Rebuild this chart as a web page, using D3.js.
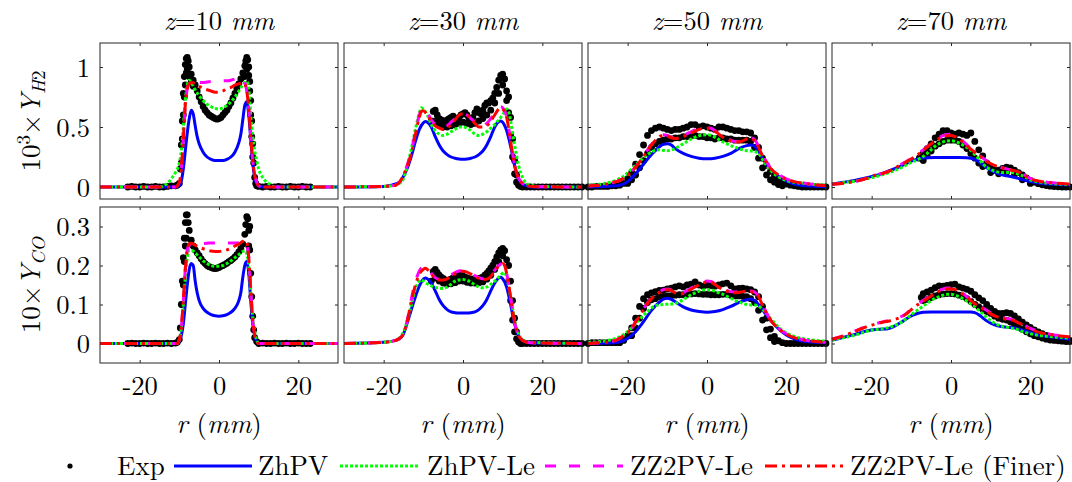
<!DOCTYPE html>
<html>
<head>
<meta charset="utf-8">
<script src="https://cdn.jsdelivr.net/npm/d3@7"></script>
<style>
  body { margin: 0; background: #fff; }
</style>
</head>
<body>
<div id="chart"></div>
<script>
// Radial profiles of 10^3*Y_H2 (top row) and 10*Y_CO (bottom row) at four heights.
// Every series is a list of [r (mm), value] pairs.

const heights = ["10", "30", "50", "70"];
const xTicks = [-20, 0, 20];
const yTicksH2 = [0, 0.5, 1];
const yTicksCO = [0, 0.1, 0.2, 0.3];

// ---------- z = 10 mm ----------
const expH2z10 = [[-23,0],[-22,0.005],[-21,0],[-20,0],[-19,0.005],[-18,0],[-17,0],[-16,0.005],[-15,0],[-14,0],[-13,0.005],[-12,0.01],[-11,0.01],[-10.5,0.015],[-10,0.03],[-9.75,0.15],[-9.5,0.35],[-9.25,0.55],[-9,0.78],[-8.75,0.92],[-8.5,1.02],[-8.25,1.07],[-8,1.08],[-7.75,1.05],[-7.5,1.0],[-7,0.94],[-6.5,0.89],[-6,0.85],[-5.5,0.8],[-5,0.75],[-4.5,0.71],[-4,0.67],[-3.5,0.64],[-3,0.62],[-2.5,0.6],[-2,0.59],[-1.5,0.58],[-1,0.57],[-0.5,0.565],[0,0.57],[0.5,0.58],[1,0.6],[1.5,0.62],[2,0.64],[2.5,0.67],[3,0.7],[3.5,0.74],[4,0.78],[4.5,0.82],[5,0.86],[5.5,0.9],[6,0.95],[6.5,1.01],[6.75,1.05],[7,1.08],[7.25,1.06],[7.5,1.0],[7.75,0.88],[8,0.72],[8.25,0.55],[8.5,0.36],[8.75,0.2],[9,0.08],[9.25,0.03],[9.5,0.01],[10,0.005],[11,0],[12,0.005],[13,0],[14,0],[15,0.005],[16,0],[17,0],[18,0.005],[19,0],[20,0],[21,0.005],[22,0],[23,0],
  [-9.5,0.2],[-9.25,0.4],[-9,0.6],[-8.75,0.75],[-8.5,0.85],[-8.25,0.95],[-8,0.98],[-7.5,0.92],[-7,0.88],[-6.5,0.84],[6.5,0.92],[7,0.98],[7.5,0.93],[7.75,0.8],[8,0.6],[8.25,0.42],[8.5,0.25]];
const zhpvH2z10 = [[-30,0],[-11,0],[-10,0.01],[-9.5,0.05],[-9,0.15],[-8.5,0.3],[-8,0.45],[-7.5,0.57],[-7,0.64],[-6.5,0.61],[-6,0.51],[-5.5,0.42],[-5,0.36],[-4,0.29],[-3,0.25],[-2,0.23],[-1,0.22],[0,0.22],[1,0.22],[2,0.23],[3,0.25],[4,0.29],[5,0.37],[5.5,0.44],[6,0.56],[6.5,0.68],[7,0.71],[7.5,0.6],[8,0.4],[8.5,0.2],[9,0.08],[9.5,0.03],[10,0.01],[11,0],[30,0]];
const zhpvLeH2z10 = [[-30,0],[-15,0],[-14,0.01],[-13,0.03],[-12,0.07],[-11,0.12],[-10,0.2],[-9.5,0.3],[-9,0.5],[-8.5,0.72],[-8,0.85],[-7.5,0.89],[-7,0.87],[-6,0.81],[-5,0.76],[-4,0.72],[-3,0.69],[-2,0.67],[-1,0.655],[0,0.65],[1,0.66],[2,0.68],[3,0.71],[4,0.75],[5,0.8],[6,0.85],[7,0.88],[7.5,0.82],[8,0.6],[8.5,0.42],[9,0.3],[9.5,0.22],[10,0.15],[11,0.08],[12,0.04],[13,0.02],[14,0],[30,0]];
const zz2H2z10 = [[-30,0],[-11,0],[-10,0.04],[-9.5,0.15],[-9,0.4],[-8.5,0.68],[-8,0.82],[-7.5,0.86],[-7,0.87],[-6,0.87],[-5,0.87],[-4,0.87],[-3,0.875],[-2,0.88],[-1,0.885],[0,0.885],[1,0.885],[2,0.885],[3,0.89],[4,0.9],[5,0.91],[5.5,0.915],[6,0.9],[6.5,0.87],[7,0.8],[7.5,0.65],[8,0.42],[8.5,0.22],[9,0.1],[9.5,0.04],[10,0.01],[11,0],[30,0]];
const zz2FineH2z10 = [[-30,0],[-11,0],[-10.5,0.01],[-10,0.04],[-9.5,0.15],[-9,0.4],[-8.5,0.68],[-8,0.82],[-7.5,0.86],[-7,0.87],[-6,0.86],[-5,0.84],[-4,0.82],[-3,0.81],[-2,0.8],[-1,0.79],[0,0.79],[1,0.8],[2,0.82],[3,0.83],[4,0.85],[5,0.86],[6,0.87],[6.5,0.86],[7,0.8],[7.5,0.65],[8,0.42],[8.5,0.22],[9,0.1],[9.5,0.04],[10,0.01],[11,0],[30,0]];

const expCOz10 = [[-23,0],[-22,0.001],[-21,0],[-20,0],[-19,0.001],[-18,0],[-17,0],[-16,0.001],[-15,0],[-14,0],[-13,0.001],[-12,0],[-11,0.001],[-10.5,0.003],[-10,0.01],[-9.75,0.04],[-9.5,0.1],[-9.25,0.16],[-9,0.22],[-8.75,0.27],[-8.5,0.31],[-8.25,0.33],[-8,0.33],[-7.75,0.31],[-7.5,0.29],[-7,0.265],[-6.5,0.25],[-6,0.24],[-5.5,0.232],[-5,0.225],[-4.5,0.217],[-4,0.21],[-3.5,0.205],[-3,0.2],[-2.5,0.197],[-2,0.195],[-1.5,0.193],[-1,0.192],[-0.5,0.193],[0,0.195],[0.5,0.198],[1,0.2],[1.5,0.203],[2,0.206],[2.5,0.21],[3,0.213],[3.5,0.217],[4,0.222],[4.5,0.228],[5,0.235],[5.5,0.243],[6,0.255],[6.5,0.28],[6.75,0.305],[7,0.325],[7.25,0.32],[7.5,0.29],[7.75,0.24],[8,0.18],[8.25,0.12],[8.5,0.07],[8.75,0.035],[9,0.015],[9.5,0.005],[10,0],[11,0.001],[12,0],[13,0],[14,0.001],[15,0],[16,0],[17,0.001],[18,0],[19,0],[20,0.001],[21,0],[22,0],[23,0],
  [-9,0.15],[-8.75,0.21],[-8.5,0.25],[-8.25,0.27],[7.5,0.25],[7.75,0.3]];
const zhpvCOz10 = [[-30,0],[-10.5,0],[-10,0.005],[-9.5,0.02],[-9,0.05],[-8.5,0.1],[-8,0.15],[-7.5,0.19],[-7,0.205],[-6.5,0.2],[-6,0.16],[-5.5,0.13],[-5,0.11],[-4,0.09],[-3,0.08],[-2,0.074],[-1,0.071],[0,0.07],[1,0.071],[2,0.074],[3,0.08],[4,0.09],[5,0.11],[5.5,0.13],[6,0.17],[6.5,0.2],[7,0.21],[7.5,0.18],[8,0.11],[8.5,0.05],[9,0.02],[9.5,0.005],[10,0],[30,0]];
const zhpvLeCOz10 = [[-30,0],[-10.5,0],[-10,0.01],[-9.5,0.04],[-9,0.1],[-8.5,0.17],[-8,0.22],[-7.5,0.24],[-7,0.24],[-6,0.232],[-5,0.222],[-4,0.212],[-3,0.205],[-2,0.2],[-1,0.198],[0,0.198],[1,0.2],[2,0.205],[3,0.212],[4,0.22],[5,0.228],[6,0.236],[6.5,0.238],[7,0.23],[7.5,0.2],[8,0.13],[8.5,0.07],[9,0.03],[9.5,0.01],[10,0],[30,0]];
const zz2COz10 = [[-30,0],[-10.5,0],[-10,0.01],[-9.5,0.04],[-9,0.11],[-8.5,0.19],[-8,0.24],[-7.5,0.252],[-7,0.254],[-6,0.254],[-5,0.255],[-4,0.256],[-3,0.257],[-2,0.258],[-1,0.258],[0,0.258],[1,0.258],[2,0.258],[3,0.258],[4,0.258],[5,0.258],[6,0.26],[6.5,0.262],[7,0.255],[7.5,0.22],[8,0.14],[8.5,0.06],[9,0.02],[9.5,0.005],[10,0],[30,0]];
const zz2FineCOz10 = [[-30,0],[-10.5,0],[-10,0.01],[-9.5,0.04],[-9,0.11],[-8.5,0.19],[-8,0.24],[-7.5,0.255],[-7,0.257],[-6,0.252],[-5,0.247],[-4,0.243],[-3,0.24],[-2,0.237],[-1,0.236],[0,0.236],[1,0.238],[2,0.24],[3,0.244],[4,0.25],[5,0.255],[6,0.262],[6.5,0.265],[7,0.26],[7.5,0.22],[8,0.14],[8.5,0.06],[9,0.02],[9.5,0.005],[10,0],[30,0]];

// ---------- z = 30 mm ----------
const expH2z30 = [[-8,0.55],[-7.5,0.63],[-7,0.64],[-6.5,0.6],[-6,0.57],[-5.5,0.56],[-5,0.55],[-4.5,0.53],[-4,0.56],[-3.5,0.57],[-3,0.58],[-2.5,0.59],[-2,0.57],[-1.5,0.56],[-1,0.58],[-0.5,0.6],[0,0.61],[0.5,0.62],[1,0.6],[1.5,0.57],[2,0.56],[2.5,0.58],[3,0.62],[3.5,0.65],[4,0.62],[4.5,0.61],[5,0.64],[5.5,0.68],[6,0.7],[6.5,0.7],[7,0.72],[7.5,0.74],[8,0.78],[8.5,0.83],[9,0.89],[9.5,0.93],[10,0.94],[10.5,0.9],[11,0.8],[11.5,0.62],[12,0.43],[12.5,0.25],[13,0.11],[13.5,0.04],[14,0.015],[14.5,0.005],[15,0],[16,0],[17,0],[18,0],[19,0],[20,0],[21,0],[22,0],[23,0],[24,0],[25,0],[26,0],[27,0],[28,0],[29,0],[30,0],
  [-7,0.55],[-6,0.52],[-5,0.5],[-4,0.5],[-3,0.51],[-2,0.52],[-1,0.53],[0,0.54],[1,0.53],[2,0.52],[3,0.53],[4,0.55],[5,0.57],[6,0.6],[7,0.64],[8,0.7],[9,0.78],[10,0.85],[11,0.72],[11.5,0.75],[12,0.58],[12.5,0.4],[13,0.22],[13.5,0.1],[14,0.04]];
const zhpvH2z30 = [[-30,0],[-20,0.005],[-18,0.015],[-17,0.025],[-16,0.04],[-15,0.09],[-14,0.16],[-13,0.26],[-12,0.38],[-11,0.48],[-10,0.535],[-9.5,0.545],[-9,0.54],[-8,0.5],[-7,0.42],[-6,0.35],[-5,0.3],[-4,0.27],[-3,0.25],[-2,0.24],[-1,0.234],[0,0.232],[1,0.234],[2,0.24],[3,0.25],[4,0.27],[5,0.3],[6,0.35],[7,0.42],[8,0.5],[9,0.545],[9.5,0.55],[10,0.54],[11,0.47],[12,0.34],[13,0.18],[14,0.07],[15,0.025],[16,0.01],[18,0],[30,0]];
const zhpvLeH2z30 = [[-30,0],[-20,0.005],[-17,0.015],[-16,0.03],[-15,0.07],[-14,0.18],[-13,0.32],[-12,0.48],[-11,0.62],[-10.5,0.66],[-10,0.65],[-9,0.6],[-8,0.52],[-7,0.47],[-6,0.44],[-5,0.43],[-4,0.44],[-3,0.46],[-2,0.48],[-1,0.5],[0,0.5],[1,0.49],[2,0.47],[3,0.44],[4,0.43],[5,0.44],[6,0.46],[7,0.49],[8,0.52],[9,0.56],[10,0.6],[11,0.65],[11.5,0.63],[12,0.55],[13,0.35],[14,0.18],[15,0.08],[16,0.03],[17,0.015],[19,0.005],[30,0]];
const zz2H2z30 = [[-30,0],[-20,0.005],[-17,0.015],[-16,0.04],[-15,0.1],[-14,0.19],[-13,0.3],[-12,0.46],[-11,0.6],[-10.5,0.65],[-10,0.655],[-9,0.62],[-8,0.56],[-7,0.52],[-6,0.5],[-5,0.5],[-4,0.51],[-3,0.54],[-2,0.57],[-1,0.6],[0,0.61],[1,0.6],[2,0.57],[3,0.54],[4,0.51],[5,0.51],[6,0.53],[7,0.57],[8,0.62],[9,0.66],[9.5,0.67],[10,0.66],[11,0.59],[12,0.39],[13,0.19],[14,0.075],[15,0.03],[16,0.012],[18,0.003],[30,0]];
const zz2FineH2z30 = [[-30,0],[-20,0.005],[-17,0.015],[-16,0.04],[-15,0.1],[-14,0.18],[-13,0.28],[-12,0.44],[-11,0.58],[-10.5,0.63],[-10,0.635],[-9,0.6],[-8,0.55],[-7,0.51],[-6,0.49],[-5,0.48],[-4,0.49],[-3,0.52],[-2,0.56],[-1,0.6],[0,0.61],[1,0.6],[2,0.57],[3,0.53],[4,0.5],[5,0.5],[6,0.51],[7,0.55],[8,0.6],[9,0.65],[9.5,0.66],[10,0.65],[11,0.58],[12,0.38],[13,0.18],[14,0.07],[15,0.03],[16,0.012],[18,0.003],[30,0]];

const expCOz30 = [[-8,0.16],[-7.5,0.185],[-7,0.19],[-6.5,0.182],[-6,0.175],[-5.5,0.17],[-5,0.167],[-4.5,0.163],[-4,0.162],[-3.5,0.163],[-3,0.165],[-2.5,0.168],[-2,0.17],[-1.5,0.173],[-1,0.176],[-0.5,0.175],[0,0.173],[0.5,0.17],[1,0.168],[1.5,0.166],[2,0.165],[2.5,0.165],[3,0.166],[3.5,0.166],[4,0.167],[4.5,0.168],[5,0.17],[5.5,0.175],[6,0.18],[6.5,0.186],[7,0.193],[7.5,0.2],[8,0.21],[8.5,0.222],[9,0.232],[9.5,0.24],[10,0.244],[10.5,0.238],[11,0.215],[11.5,0.16],[12,0.11],[12.5,0.06],[13,0.03],[13.5,0.012],[14,0.004],[14.5,0],[15,0],[16,0],[17,0],[18,0],[19,0],[20,0],[21,0],[22,0],[23,0],[24,0],[25,0],[26,0],[27,0],[28,0],[29,0],[30,0],
  [-7,0.168],[-6,0.16],[-5,0.155],[-4,0.152],[-3,0.153],[-2,0.156],[-1,0.16],[0,0.16],[1,0.157],[2,0.155],[3,0.155],[4,0.156],[5,0.158],[6,0.165],[7,0.175],[8,0.19],[9,0.21],[10,0.225],[11.5,0.2],[12,0.16],[12.5,0.11],[13,0.065],[13.5,0.03],[14,0.01]];
const zhpvCOz30 = [[-30,0],[-20,0.003],[-17,0.008],[-16,0.012],[-15,0.025],[-14,0.055],[-13,0.088],[-12,0.12],[-11,0.148],[-10,0.165],[-9.5,0.168],[-9,0.166],[-8,0.155],[-7,0.135],[-6,0.113],[-5,0.097],[-4,0.087],[-3,0.081],[-2,0.079],[-1,0.078],[0,0.078],[1,0.078],[2,0.079],[3,0.081],[4,0.087],[5,0.097],[6,0.113],[7,0.135],[8,0.155],[9,0.168],[9.5,0.17],[10,0.166],[11,0.145],[12,0.1],[13,0.05],[14,0.02],[15,0.008],[17,0.002],[30,0]];
const zhpvLeCOz30 = [[-30,0],[-20,0.003],[-17,0.008],[-16,0.015],[-15,0.03],[-14,0.06],[-13,0.1],[-12,0.14],[-11,0.16],[-10.5,0.163],[-10,0.16],[-9,0.153],[-8,0.148],[-7,0.144],[-6,0.142],[-5,0.141],[-4,0.145],[-3,0.152],[-2,0.16],[-1,0.163],[0,0.164],[1,0.162],[2,0.157],[3,0.15],[4,0.145],[5,0.143],[6,0.145],[7,0.152],[8,0.16],[9,0.17],[10,0.18],[10.5,0.182],[11,0.17],[12,0.12],[13,0.06],[14,0.025],[15,0.01],[17,0.003],[30,0]];
const zz2COz30 = [[-30,0],[-20,0.003],[-17,0.008],[-16,0.013],[-15,0.026],[-14,0.062],[-13,0.115],[-12,0.158],[-11,0.186],[-10,0.197],[-9.5,0.198],[-9,0.194],[-8,0.18],[-7,0.169],[-6,0.165],[-5,0.166],[-4,0.17],[-3,0.176],[-2,0.182],[-1,0.186],[0,0.187],[1,0.185],[2,0.18],[3,0.174],[4,0.169],[5,0.166],[6,0.167],[7,0.174],[8,0.188],[9,0.2],[10,0.205],[10.5,0.2],[11,0.18],[12,0.12],[13,0.055],[14,0.02],[15,0.008],[17,0.002],[30,0]];
const zz2FineCOz30 = [[-30,0],[-20,0.003],[-17,0.008],[-16,0.013],[-15,0.025],[-14,0.06],[-13,0.11],[-12,0.15],[-11,0.178],[-10,0.19],[-9.5,0.193],[-9,0.19],[-8,0.178],[-7,0.167],[-6,0.163],[-5,0.163],[-4,0.166],[-3,0.172],[-2,0.179],[-1,0.184],[0,0.185],[1,0.183],[2,0.178],[3,0.172],[4,0.167],[5,0.164],[6,0.165],[7,0.172],[8,0.186],[9,0.198],[10,0.205],[10.5,0.2],[11,0.18],[12,0.12],[13,0.055],[14,0.02],[15,0.008],[17,0.002],[30,0]];

// ---------- z = 50 mm ----------
const expH2z50 = [[-30,0],[-29,0],[-28,0.005],[-27,0.005],[-26,0.005],[-25,0.005],[-24,0.01],[-23,0.01],[-22,0.015],[-21,0.03],[-20,0.07],[-19,0.12],[-18,0.19],[-17,0.27],[-16,0.35],[-15,0.43],[-14,0.47],[-13,0.49],[-12,0.5],[-11,0.49],[-10,0.48],[-9,0.47],[-8,0.48],[-7,0.48],[-6,0.49],[-5,0.5],[-4,0.52],[-3,0.52],[-2,0.5],[-1,0.51],[0,0.5],[1,0.49],[2,0.48],[3,0.5],[4,0.5],[5,0.49],[6,0.48],[7,0.47],[8,0.47],[9,0.46],[10,0.46],[11,0.45],[12,0.41],[13,0.33],[14,0.24],[15,0.18],[16,0.13],[17,0.09],[18,0.06],[19,0.04],[20,0.025],[21,0.015],[22,0.01],[23,0.005],[24,0],[25,0],[26,0],[27,0],[28,0],[29,0],[30,0],
  [-20,0.03],[-19,0.06],[-18,0.1],[-17,0.16],[-16,0.22],[-15,0.28],[-14,0.33],[-13,0.36],[-12,0.38],[-11,0.39],[-10,0.4],[-9,0.4],[-8,0.41],[-7,0.41],[-6,0.42],[-5,0.42],[-4,0.43],[-3,0.43],[-2,0.42],[-1,0.42],[0,0.41],[1,0.41],[2,0.4],[3,0.41],[4,0.41],[5,0.4],[6,0.4],[7,0.39],[8,0.39],[9,0.39],[10,0.39],[11,0.38],[12,0.33],[13,0.24],[14,0.16],[15,0.1],[16,0.06],[17,0.04],[18,0.02],[19,0.01]];
const zhpvH2z50 = [[-30,0.003],[-26,0.005],[-24,0.008],[-22,0.015],[-20,0.045],[-18,0.11],[-16,0.19],[-14,0.27],[-12,0.335],[-11,0.355],[-10,0.36],[-9,0.35],[-8,0.32],[-6,0.28],[-4,0.255],[-2,0.24],[0,0.235],[2,0.24],[4,0.255],[6,0.28],[8,0.32],[10,0.345],[11,0.35],[12,0.34],[13,0.3],[14,0.24],[15,0.19],[16,0.15],[18,0.09],[20,0.05],[22,0.025],[25,0.01],[30,0.003]];
const zhpvLeH2z50 = [[-30,0.015],[-27,0.022],[-25,0.035],[-23,0.055],[-21,0.09],[-19,0.15],[-17,0.215],[-15,0.27],[-13,0.305],[-12,0.31],[-11,0.305],[-10,0.303],[-9,0.308],[-8,0.32],[-7,0.34],[-6,0.36],[-5,0.38],[-4,0.4],[-3,0.415],[-2,0.427],[-1,0.433],[0,0.435],[1,0.43],[2,0.415],[3,0.395],[4,0.375],[5,0.36],[6,0.345],[7,0.333],[8,0.32],[9,0.31],[10,0.302],[11,0.3],[12,0.295],[13,0.28],[14,0.23],[15,0.18],[16,0.14],[18,0.085],[20,0.055],[22,0.04],[25,0.027],[30,0.015]];
const zz2H2z50 = [[-30,0.008],[-28,0.012],[-26,0.02],[-24,0.035],[-22,0.056],[-20,0.1],[-18,0.168],[-16,0.26],[-14,0.355],[-13,0.395],[-12,0.425],[-11,0.435],[-10,0.43],[-9,0.415],[-8,0.41],[-7,0.415],[-6,0.428],[-5,0.445],[-4,0.46],[-3,0.475],[-2,0.488],[-1,0.495],[0,0.495],[1,0.49],[2,0.47],[3,0.445],[4,0.42],[5,0.405],[6,0.39],[7,0.38],[8,0.38],[9,0.39],[10,0.405],[11,0.412],[12,0.395],[13,0.34],[14,0.27],[15,0.21],[16,0.16],[18,0.105],[20,0.068],[22,0.047],[25,0.03],[30,0.013]];
const zz2FineH2z50 = [[-30,0.008],[-28,0.012],[-26,0.02],[-24,0.035],[-22,0.055],[-20,0.1],[-18,0.165],[-16,0.255],[-14,0.35],[-13,0.39],[-12,0.42],[-11,0.43],[-10,0.425],[-9,0.41],[-8,0.405],[-7,0.41],[-6,0.42],[-5,0.435],[-4,0.45],[-3,0.465],[-2,0.48],[-1,0.488],[0,0.49],[1,0.485],[2,0.465],[3,0.44],[4,0.415],[5,0.4],[6,0.385],[7,0.375],[8,0.375],[9,0.385],[10,0.4],[11,0.405],[12,0.385],[13,0.33],[14,0.26],[15,0.2],[16,0.155],[18,0.1],[20,0.065],[22,0.045],[25,0.028],[30,0.012]];

const expCOz50 = [[-30,0],[-29,0.002],[-28,0.002],[-27,0.002],[-26,0.002],[-25,0.002],[-24,0.002],[-23,0.002],[-22,0.002],[-21,0.008],[-20,0.02],[-19,0.04],[-18,0.065],[-17,0.095],[-16,0.115],[-15,0.125],[-14,0.13],[-13,0.133],[-12,0.136],[-11,0.137],[-10,0.14],[-9,0.142],[-8,0.145],[-7,0.148],[-6,0.145],[-5,0.15],[-4,0.152],[-3,0.158],[-2,0.15],[-1,0.147],[0,0.15],[1,0.148],[2,0.147],[3,0.15],[4,0.153],[5,0.155],[6,0.148],[7,0.14],[8,0.141],[9,0.142],[10,0.14],[11,0.138],[12,0.132],[13,0.12],[14,0.095],[15,0.065],[16,0.037],[17,0.018],[18,0.007],[19,0.002],[20,0],[21,0],[22,0],[23,0],[24,0],[25,0],[26,0],[27,0],[28,0],[29,0],[30,0],
  [-19,0.02],[-18,0.04],[-17,0.065],[-16,0.09],[-15,0.105],[-14,0.112],[-13,0.115],[-12,0.12],[-11,0.121],[-10,0.122],[-9,0.123],[-8,0.124],[-7,0.125],[-6,0.125],[-5,0.126],[-4,0.127],[-3,0.128],[-2,0.127],[-1,0.126],[0,0.126],[1,0.125],[2,0.125],[3,0.125],[4,0.126],[5,0.126],[6,0.124],[7,0.122],[8,0.122],[9,0.121],[10,0.12],[11,0.115],[12,0.105],[13,0.085],[14,0.06],[15,0.035],[16,0.015],[17,0.005]];
const zhpvCOz50 = [[-30,0],[-25,0.001],[-22,0.004],[-20,0.013],[-18,0.03],[-16,0.056],[-14,0.085],[-12,0.106],[-11,0.114],[-10,0.116],[-9,0.113],[-8,0.107],[-7,0.1],[-6,0.094],[-4,0.086],[-2,0.082],[0,0.08],[2,0.082],[4,0.087],[6,0.095],[8,0.105],[10,0.112],[11,0.114],[12,0.11],[13,0.1],[14,0.086],[15,0.073],[16,0.06],[18,0.038],[20,0.022],[22,0.012],[25,0.005],[30,0.002]];
const zhpvLeCOz50 = [[-30,0.003],[-27,0.005],[-25,0.008],[-23,0.013],[-21,0.023],[-19,0.04],[-17,0.062],[-15,0.082],[-13,0.097],[-11,0.1],[-9,0.101],[-8,0.103],[-7,0.107],[-6,0.112],[-5,0.119],[-4,0.125],[-3,0.13],[-2,0.134],[-1,0.137],[0,0.138],[1,0.137],[2,0.134],[3,0.13],[4,0.126],[5,0.121],[6,0.116],[7,0.111],[8,0.107],[9,0.103],[10,0.1],[11,0.099],[12,0.099],[13,0.096],[14,0.088],[15,0.077],[16,0.065],[18,0.042],[20,0.027],[22,0.018],[25,0.011],[30,0.006]];
const zz2COz50 = [[-30,0],[-28,0.001],[-25,0.004],[-23,0.008],[-21,0.02],[-20,0.028],[-19,0.039],[-18,0.056],[-17,0.072],[-16,0.089],[-15,0.104],[-14,0.117],[-13,0.126],[-12,0.133],[-11,0.138],[-10,0.14],[-9,0.138],[-8,0.133],[-7,0.13],[-6,0.131],[-5,0.136],[-4,0.142],[-3,0.148],[-2,0.153],[-1,0.158],[0,0.16],[1,0.159],[2,0.153],[3,0.146],[4,0.14],[5,0.136],[6,0.133],[7,0.132],[8,0.133],[9,0.135],[10,0.136],[11,0.135],[12,0.132],[13,0.122],[14,0.1],[15,0.079],[16,0.061],[17,0.049],[18,0.039],[20,0.025],[22,0.016],[25,0.008],[30,0.003]];
const zz2FineCOz50 = [[-30,0],[-28,0.001],[-25,0.004],[-23,0.008],[-21,0.02],[-20,0.028],[-19,0.038],[-18,0.055],[-17,0.07],[-16,0.087],[-15,0.102],[-14,0.115],[-13,0.124],[-12,0.131],[-11,0.136],[-10,0.138],[-9,0.136],[-8,0.13],[-7,0.127],[-6,0.128],[-5,0.133],[-4,0.139],[-3,0.145],[-2,0.15],[-1,0.155],[0,0.158],[1,0.157],[2,0.151],[3,0.144],[4,0.138],[5,0.134],[6,0.131],[7,0.13],[8,0.131],[9,0.133],[10,0.134],[11,0.133],[12,0.13],[13,0.12],[14,0.098],[15,0.077],[16,0.06],[17,0.048],[18,0.038],[20,0.024],[22,0.015],[25,0.008],[30,0.003]];

// ---------- z = 70 mm ----------
const expH2z70 = [[-8,0.24],[-7,0.28],[-6,0.32],[-5,0.36],[-4,0.41],[-3,0.44],[-2,0.47],[-1,0.47],[0,0.45],[1,0.44],[2,0.45],[3,0.44],[4,0.43],[5,0.45],[6,0.38],[7,0.31],[8,0.26],[9,0.2],[10,0.16],[11,0.14],[12,0.14],[13,0.155],[14,0.165],[15,0.16],[16,0.14],[17,0.12],[18,0.1],[19,0.075],[20,0.055],[21,0.04],[22,0.028],[23,0.018],[24,0.012],[25,0.007],[26,0.004],[27,0.002],[28,0],[29,0],[30,0],
  [-7,0.22],[-6,0.26],[-5,0.3],[-4,0.34],[-3,0.36],[-2,0.38],[-1,0.39],[0,0.39],[1,0.39],[2,0.38],[3,0.35],[4,0.32],[5,0.28],[6,0.24],[7,0.2],[8,0.17],[10,0.12],[12,0.11],[14,0.12],[16,0.1],[18,0.06],[20,0.03]];
const zhpvH2z70 = [[-30,0.025],[-27,0.04],[-24,0.057],[-21,0.08],[-18,0.105],[-16,0.13],[-14,0.155],[-12,0.185],[-10,0.215],[-8,0.235],[-6,0.243],[-4,0.245],[-2,0.245],[0,0.245],[2,0.245],[4,0.244],[5,0.24],[6,0.23],[7,0.21],[8,0.185],[9,0.16],[10,0.14],[11,0.124],[12,0.11],[14,0.093],[16,0.08],[18,0.062],[20,0.045],[22,0.033],[25,0.024],[30,0.016]];
const zhpvLeH2z70 = [[-30,0.025],[-27,0.037],[-24,0.05],[-21,0.07],[-18,0.095],[-16,0.115],[-14,0.14],[-12,0.17],[-10,0.205],[-8,0.235],[-7,0.255],[-6,0.28],[-5,0.31],[-4,0.34],[-3,0.362],[-2,0.376],[-1,0.383],[0,0.385],[1,0.38],[2,0.368],[3,0.35],[4,0.33],[5,0.305],[6,0.27],[7,0.235],[8,0.195],[9,0.165],[10,0.145],[11,0.132],[12,0.124],[13,0.12],[14,0.12],[15,0.12],[16,0.117],[17,0.107],[18,0.094],[19,0.078],[20,0.06],[21,0.05],[23,0.038],[26,0.028],[30,0.02]];
const zz2H2z70 = [[-30,0.022],[-27,0.032],[-24,0.047],[-21,0.075],[-19,0.1],[-17,0.116],[-15,0.142],[-13,0.182],[-11,0.218],[-9,0.258],[-7,0.31],[-5,0.365],[-3,0.412],[-2,0.428],[-1,0.437],[0,0.44],[1,0.43],[2,0.41],[3,0.383],[4,0.352],[5,0.32],[6,0.294],[7,0.268],[8,0.243],[9,0.216],[10,0.198],[11,0.183],[12,0.17],[13,0.16],[14,0.151],[15,0.145],[16,0.139],[17,0.128],[18,0.108],[19,0.09],[20,0.072],[22,0.051],[25,0.037],[30,0.024]];
const zz2FineH2z70 = [[-30,0.022],[-27,0.032],[-24,0.047],[-21,0.075],[-19,0.1],[-17,0.115],[-15,0.14],[-13,0.18],[-11,0.215],[-9,0.255],[-7,0.305],[-5,0.36],[-3,0.405],[-2,0.42],[-1,0.428],[0,0.43],[1,0.42],[2,0.4],[3,0.375],[4,0.345],[5,0.315],[6,0.29],[7,0.265],[8,0.24],[9,0.213],[10,0.195],[11,0.18],[12,0.168],[13,0.157],[14,0.148],[15,0.142],[16,0.136],[17,0.125],[18,0.106],[19,0.088],[20,0.07],[22,0.05],[25,0.036],[30,0.024]];

const expCOz70 = [[-7.5,0.118],[-7,0.128],[-6,0.132],[-5,0.137],[-4,0.143],[-3,0.148],[-2,0.147],[-1,0.149],[0,0.151],[1,0.152],[2,0.145],[3,0.142],[4,0.139],[5,0.134],[6,0.125],[7,0.117],[8,0.11],[9,0.1],[10,0.09],[11,0.082],[12,0.077],[13,0.077],[14,0.079],[15,0.077],[16,0.071],[17,0.063],[18,0.055],[19,0.048],[20,0.041],[21,0.035],[22,0.03],[23,0.025],[24,0.021],[25,0.018],[26,0.015],[27,0.012],[28,0.01],[29,0.009],[30,0.008],
  [-7,0.11],[-6,0.113],[-5,0.118],[-4,0.122],[-3,0.125],[-2,0.127],[-1,0.128],[0,0.128],[1,0.127],[2,0.124],[3,0.12],[4,0.115],[5,0.108],[6,0.1],[7,0.094],[8,0.088],[9,0.082],[10,0.077],[11,0.07],[12,0.065],[13,0.062],[14,0.06],[15,0.055],[16,0.048],[17,0.042],[18,0.036],[19,0.03],[20,0.025],[21,0.02],[22,0.017],[23,0.014],[24,0.011],[25,0.009],[26,0.008],[27,0.007],[28,0.006],[29,0.005],[30,0.005]];
const zhpvCOz70 = [[-30,0.009],[-27,0.016],[-24,0.024],[-21,0.033],[-19,0.036],[-17,0.037],[-16,0.038],[-15,0.041],[-14,0.046],[-13,0.052],[-12,0.058],[-11,0.065],[-10,0.071],[-9,0.075],[-8,0.078],[-7,0.08],[-5,0.081],[0,0.081],[5,0.081],[6,0.079],[7,0.074],[8,0.066],[9,0.058],[10,0.052],[11,0.048],[12,0.045],[14,0.042],[16,0.04],[18,0.034],[20,0.028],[22,0.022],[25,0.017],[30,0.011]];
const zhpvLeCOz70 = [[-30,0.009],[-27,0.015],[-24,0.022],[-21,0.032],[-19,0.036],[-17,0.038],[-15,0.043],[-13,0.052],[-12,0.058],[-11,0.066],[-10,0.074],[-9,0.082],[-8,0.089],[-7,0.096],[-6,0.103],[-5,0.11],[-4,0.116],[-3,0.12],[-2,0.124],[-1,0.126],[0,0.126],[1,0.124],[2,0.12],[3,0.115],[4,0.109],[5,0.102],[6,0.095],[7,0.085],[8,0.076],[9,0.067],[10,0.059],[11,0.052],[12,0.047],[13,0.044],[14,0.042],[15,0.04],[16,0.038],[17,0.035],[18,0.031],[20,0.025],[22,0.021],[25,0.018],[30,0.014]];
const zz2COz70 = [[-30,0.011],[-27,0.021],[-25,0.029],[-23,0.037],[-21,0.045],[-19,0.051],[-17,0.056],[-15,0.06],[-14,0.063],[-13,0.067],[-12,0.072],[-11,0.079],[-10,0.088],[-9,0.096],[-8,0.104],[-7,0.111],[-6,0.117],[-5,0.124],[-4,0.131],[-3,0.136],[-2,0.14],[-1,0.142],[0,0.142],[1,0.14],[2,0.135],[3,0.128],[4,0.12],[5,0.112],[6,0.104],[7,0.097],[8,0.091],[9,0.085],[10,0.078],[11,0.073],[12,0.069],[13,0.066],[14,0.064],[15,0.063],[16,0.06],[17,0.055],[18,0.05],[19,0.044],[20,0.039],[22,0.031],[25,0.024],[30,0.018]];
const zz2FineCOz70 = [[-30,0.011],[-27,0.02],[-25,0.028],[-23,0.036],[-21,0.044],[-19,0.05],[-17,0.055],[-15,0.059],[-14,0.062],[-13,0.066],[-12,0.071],[-11,0.078],[-10,0.087],[-9,0.095],[-8,0.102],[-7,0.109],[-6,0.115],[-5,0.122],[-4,0.129],[-3,0.134],[-2,0.138],[-1,0.14],[0,0.14],[1,0.138],[2,0.133],[3,0.126],[4,0.118],[5,0.11],[6,0.102],[7,0.095],[8,0.089],[9,0.083],[10,0.076],[11,0.071],[12,0.067],[13,0.064],[14,0.062],[15,0.061],[16,0.058],[17,0.053],[18,0.048],[19,0.042],[20,0.037],[22,0.029],[25,0.023],[30,0.017]];

// ---------- layout ----------
const width = 1072, height = 482;
const colLeft = [100, 344, 588, 832];
const panelW = 238;
const rowTop = [43, 207];
const panelH = 156;
const frameColor = "#262626";
const tickLen = 3;
const serif = '"Latin Modern Roman", "Liberation Serif"';

const models = [
  { name: "ZhPV",             color: "#0000ff", dash: null },
  { name: "ZhPV-Le",          color: "#00ff00", dash: "3,2" },
  { name: "ZZ2PV-Le",         color: "#ff00ff", dash: "11,13" },
  { name: "ZZ2PV-Le (Finer)", color: "#ff0000", dash: "12,5,3,5" }
];

const rows = [
  {
    yDomain: [-0.1, 1.2], yTicks: yTicksH2,
    exp: [expH2z10, expH2z30, expH2z50, expH2z70],
    lines: [
      [zhpvH2z10, zhpvLeH2z10, zz2H2z10, zz2FineH2z10],
      [zhpvH2z30, zhpvLeH2z30, zz2H2z30, zz2FineH2z30],
      [zhpvH2z50, zhpvLeH2z50, zz2H2z50, zz2FineH2z50],
      [zhpvH2z70, zhpvLeH2z70, zz2H2z70, zz2FineH2z70]
    ]
  },
  {
    yDomain: [-0.05, 0.35], yTicks: yTicksCO,
    exp: [expCOz10, expCOz30, expCOz50, expCOz70],
    lines: [
      [zhpvCOz10, zhpvLeCOz10, zz2COz10, zz2FineCOz10],
      [zhpvCOz30, zhpvLeCOz30, zz2COz30, zz2FineCOz30],
      [zhpvCOz50, zhpvLeCOz50, zz2COz50, zz2FineCOz50],
      [zhpvCOz70, zhpvLeCOz70, zz2COz70, zz2FineCOz70]
    ]
  }
];

const svg = d3.select("#chart")
  .append("svg")
  .attr("width", width)
  .attr("height", height);

const fmt = d => String(d);

// helper: text element with the serif family set directly on it
function addText(parent, x, y, size) {
  return parent.append("text")
    .attr("x", x).attr("y", y)
    .attr("font-family", serif)
    .attr("font-size", size)
    .attr("fill", "#000");
}

rows.forEach((row, ri) => {
  const top = rowTop[ri];
  const y = d3.scaleLinear().domain(row.yDomain).range([top + panelH, top]);

  heights.forEach((z, ci) => {
    const left = colLeft[ci];
    const x = d3.scaleLinear().domain([-30, 30]).range([left, left + panelW]);
    const g = svg.append("g");

    // axes: ticks point inward on all four sides (boxed axes)
    g.append("g")
      .attr("transform", `translate(0,${top + panelH})`)
      .call(d3.axisBottom(x).tickValues(xTicks).tickSizeInner(-tickLen).tickSizeOuter(0)
        .tickPadding(13).tickFormat(ri === 1 ? fmt : ""));
    g.append("g")
      .attr("transform", `translate(0,${top})`)
      .call(d3.axisTop(x).tickValues(xTicks).tickSizeInner(-tickLen).tickSizeOuter(0).tickFormat(""));
    const axL = g.append("g")
      .attr("transform", `translate(${left},0)`)
      .call(d3.axisLeft(y).tickValues(row.yTicks).tickSizeInner(-tickLen).tickSizeOuter(0)
        .tickPadding(10).tickFormat(ci === 0 ? fmt : ""));
    g.append("g")
      .attr("transform", `translate(${left + panelW},0)`)
      .call(d3.axisRight(y).tickValues(row.yTicks).tickSizeInner(-tickLen).tickSizeOuter(0).tickFormat(""));

    g.selectAll(".domain").remove();
    g.selectAll(".tick line").attr("stroke", frameColor);
    g.selectAll(".tick text")
      .attr("fill", "#000")
      .attr("font-family", serif)
      .attr("font-size", 26.5);
    axL.selectAll(".tick text").attr("dy", "0.34em");

    // experiment markers
    g.append("g")
      .selectAll("circle")
      .data(row.exp[ci])
      .join("circle")
      .attr("cx", d => x(d[0]))
      .attr("cy", d => y(d[1]))
      .attr("r", 3.4)
      .attr("fill", "#000");

    // model curves
    const line = d3.line().x(d => x(d[0])).y(d => y(d[1])).curve(d3.curveMonotoneX);
    models.forEach((m, mi) => {
      g.append("path")
        .datum(row.lines[ci][mi])
        .attr("d", line)
        .attr("fill", "none")
        .attr("stroke", m.color)
        .attr("stroke-width", 3)
        .attr("stroke-dasharray", m.dash)
        .attr("stroke-linejoin", "round");
    });

    // frame
    g.append("rect")
      .attr("x", left).attr("y", top)
      .attr("width", panelW).attr("height", panelH)
      .attr("fill", "none")
      .attr("stroke", frameColor)
      .attr("stroke-width", 1);

    const cx = left + panelW / 2;

    // column title
    if (ri === 0) {
      const t = addText(svg, cx, 30, 26.5).attr("text-anchor", "middle");
      t.append("tspan").attr("font-style", "italic").text("z");
      t.append("tspan").text("=" + z + " ");
      t.append("tspan").attr("font-style", "italic").text("mm");
    }

    // x label
    if (ri === 1) {
      const t = addText(svg, cx, 433, 27).attr("text-anchor", "middle");
      t.append("tspan").attr("font-style", "italic").text("r");
      t.append("tspan").text(" (");
      t.append("tspan").attr("font-style", "italic").text("mm");
      t.append("tspan").text(")");
    }
  });
});

// y labels
function yLabel(cy, parts) {
  const t = addText(svg, 0, 0, 27)
    .attr("transform", `translate(40,${cy}) rotate(-90)`)
    .attr("text-anchor", "middle");
  parts.forEach(p => {
    const s = t.append("tspan").text(p.text);
    if (p.italic) s.attr("font-style", "italic");
    if (p.size) s.attr("font-size", p.size);
    if (p.dy) s.attr("dy", p.dy);
  });
}
yLabel(rowTop[0] + panelH / 2, [
  { text: "10" },
  { text: "3", size: 19, dy: "-10" },
  { text: "×", dy: "10" },
  { text: "Y", italic: true },
  { text: "H", italic: true, size: 19, dy: "5" },
  { text: "2", size: 19 }
]);
yLabel(rowTop[1] + panelH / 2, [
  { text: "10×" },
  { text: "Y", italic: true },
  { text: "CO", italic: true, size: 19, dy: "5" }
]);

// legend
const legendY = 466;
const legend = svg.append("g");
legend.append("circle").attr("cx", 70).attr("cy", legendY).attr("r", 2.6).attr("fill", "#000");
const legendText = [
  { label: "Exp", x: 117 },
  { label: models[0].name, x: 258 },
  { label: models[1].name, x: 427 },
  { label: models[2].name, x: 630 },
  { label: models[3].name, x: 850 }
];
const legendLine = [174, 340, 545, 765];
legendText.forEach(d => {
  addText(legend, d.x, legendY + 9, 27).text(d.label);
});
models.forEach((m, i) => {
  legend.append("line")
    .attr("x1", legendLine[i]).attr("x2", legendLine[i] + 78)
    .attr("y1", legendY).attr("y2", legendY)
    .attr("stroke", m.color)
    .attr("stroke-width", 3)
    .attr("stroke-dasharray", m.dash);
});
</script>
</body>
</html>
